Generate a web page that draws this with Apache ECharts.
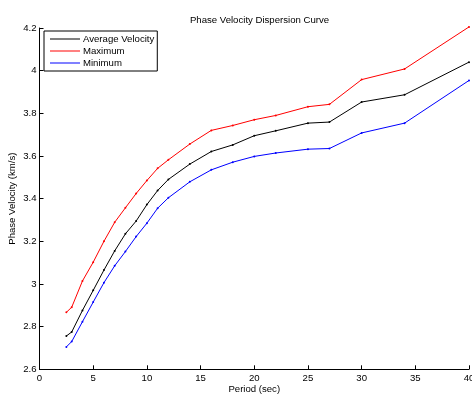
<!DOCTYPE html>
<html>
<head>
<meta charset="utf-8">
<script src="https://cdn.jsdelivr.net/npm/echarts@6/dist/echarts.min.js"></script>
<style>html,body{margin:0;padding:0;background:#fff}#c{width:472px;height:396px}</style>
</head>
<body>
<div id="c"></div>
<script>
var periods = [2.5, 3, 4, 5, 6, 7, 8, 9, 10, 11, 12, 14, 16, 18, 20, 22, 25, 27, 30, 34, 40];
var avgVel = [2.756, 2.775, 2.876, 2.97, 3.065, 3.155, 3.235, 3.295, 3.372, 3.438, 3.49, 3.562, 3.621, 3.652, 3.695, 3.718, 3.754, 3.759, 3.853, 3.887, 4.04];
var maxVel = [2.867, 2.891, 3.014, 3.102, 3.2, 3.289, 3.357, 3.424, 3.485, 3.542, 3.582, 3.656, 3.72, 3.743, 3.77, 3.79, 3.831, 3.842, 3.958, 4.008, 4.205];
var minVel = [2.705, 2.73, 2.823, 2.915, 3.006, 3.085, 3.152, 3.222, 3.285, 3.355, 3.404, 3.479, 3.535, 3.571, 3.598, 3.614, 3.632, 3.635, 3.708, 3.754, 3.954];
var seriesNames = ['Average Velocity', 'Maximum', 'Minimum'];
var xTicks = {min: 0, max: 40, step: 5};
var yTicks = {min: 2.6, max: 4.2, step: 0.2};

function pairs(ys) { return periods.map(function (p, i) { return [p, ys[i]]; }); }
var font = 'Liberation Sans, Arial, Helvetica, sans-serif';
function mk(name, ys, color) {
  return {
    name: name, type: 'line', data: pairs(ys),
    symbol: 'circle', symbolSize: 2, showSymbol: true,
    lineStyle: {color: color, width: 1}, itemStyle: {color: color},
    animation: false, emphasis: {disabled: true}, clip: false
  };
}
var chart = echarts.init(document.getElementById('c'), null, {renderer: 'canvas'});
chart.setOption({
  animation: false,
  backgroundColor: '#fff',
  title: {
    text: 'Phase Velocity Dispersion Curve', left: 254.5, top: 10, textAlign: 'center',
    textStyle: {fontFamily: font, fontSize: 9.6, fontWeight: 'normal', color: '#000'}
  },
  legend: {
    orient: 'vertical', left: 44, top: 31,
    data: seriesNames.map(function (n) { return {name: n, icon: 'rect'}; }),
    itemWidth: 30, itemHeight: 1, itemGap: 2,
    borderColor: '#000', borderWidth: 1, padding: [3, 3, 3, 6],
    backgroundColor: '#fff',
    textStyle: {fontFamily: font, fontSize: 9.6, color: '#000', padding: [0, 0, 0, -2]},
    selectedMode: false
  },
  grid: {left: 39.5, right: 3, top: 28, bottom: 26.7, containLabel: false, outerBoundsMode: 'none'},
  xAxis: {
    type: 'value', min: xTicks.min, max: xTicks.max, interval: xTicks.step,
    name: 'Period (sec)', nameLocation: 'middle', nameGap: 15, nameMoveOverlap: false,
    nameTextStyle: {fontFamily: font, fontSize: 9.6, color: '#000'},
    axisLine: {lineStyle: {color: '#000', width: 1}},
    axisTick: {inside: true, length: 4, lineStyle: {color: '#000'}},
    axisLabel: {fontFamily: font, fontSize: 9.6, color: '#000', margin: 4},
    splitLine: {show: false}
  },
  yAxis: {
    type: 'value', min: yTicks.min, max: yTicks.max, interval: yTicks.step,
    name: 'Phase Velocity (km/s)', nameLocation: 'middle', nameGap: 22, nameMoveOverlap: false,
    nameTextStyle: {fontFamily: font, fontSize: 9.6, color: '#000'},
    axisLine: {show: true, lineStyle: {color: '#000', width: 1}},
    axisTick: {show: true, inside: true, length: 4, lineStyle: {color: '#000'}},
    axisLabel: {fontFamily: font, fontSize: 9.6, color: '#000', margin: 3,
      formatter: function (v) { return String(Math.round(v * 10) / 10); }},
    splitLine: {show: false}
  },
  series: [
    mk(seriesNames[0], avgVel, '#000000'),
    mk(seriesNames[1], maxVel, '#ff0000'),
    mk(seriesNames[2], minVel, '#0000ff')
  ]
});
</script>
</body>
</html>
